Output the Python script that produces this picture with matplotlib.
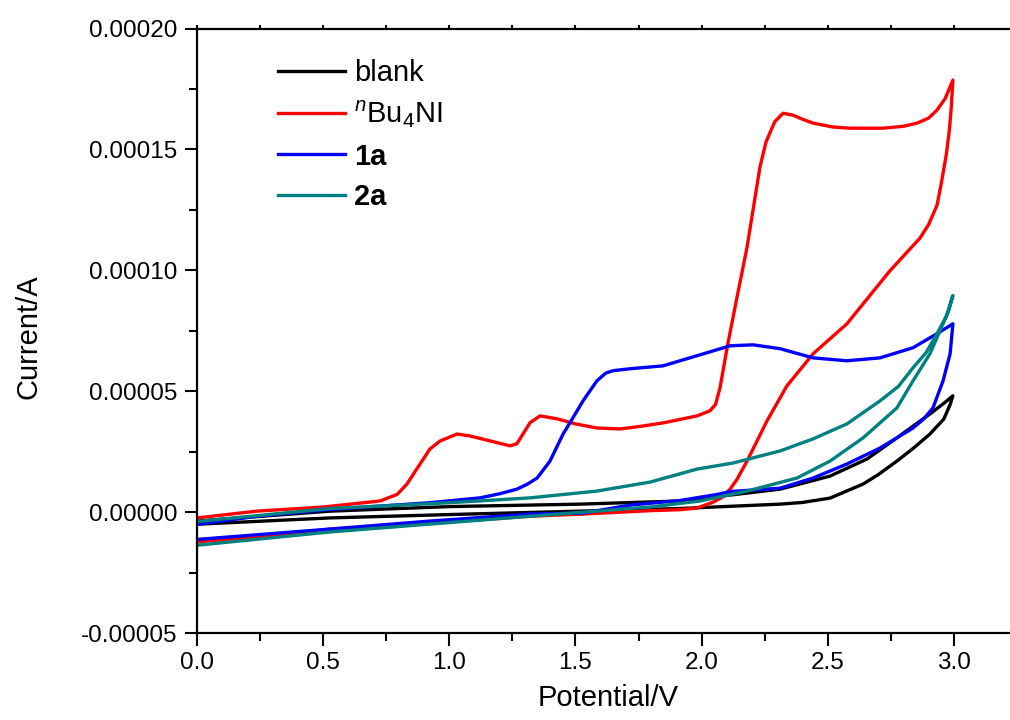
import numpy as np
import matplotlib as mpl
import matplotlib.pyplot as plt
from matplotlib.ticker import MultipleLocator, FormatStrFormatter

mpl.rcParams['font.family'] = ['Liberation Sans', 'DejaVu Sans']
mpl.rcParams['mathtext.fontset'] = 'custom'
mpl.rcParams['mathtext.rm'] = 'Liberation Sans'
mpl.rcParams['mathtext.it'] = 'Liberation Sans:italic'
mpl.rcParams['mathtext.bf'] = 'Liberation Sans:bold'

# --- data (potential in V, current in uA) ---
# blank
blank_fwd_v = [0.0, 0.527, 1.003, 1.518, 1.914, 2.311, 2.509, 2.656, 2.774, 2.905, 2.960, 2.996]
blank_fwd_i = [-3.7, 0.4, 2.3, 3.3, 4.6, 9.5, 14.9, 22.0, 30.7, 40.6, 45.0, 48.1]
blank_rev_v = [2.996, 2.985, 2.960, 2.905, 2.840, 2.774, 2.700, 2.640, 2.509, 2.400, 2.311,
               1.914, 1.518, 1.003, 0.527, 0.0]
blank_rev_i = [48.1, 44.5, 38.5, 32.3, 26.5, 21.1, 15.5, 11.6, 5.8, 4.0, 3.3,
               1.5, 0.4, -1.0, -2.4, -5.0]

# nBu4NI
nbu_fwd_v = [0.0, 0.237, 0.499, 0.725, 0.793, 0.832, 0.884, 0.923, 0.963, 1.031, 1.082,
             1.160, 1.241, 1.268, 1.292, 1.320, 1.360, 1.427, 1.500, 1.585, 1.677, 1.760,
             1.847, 1.982, 2.033, 2.055, 2.073, 2.101, 2.140, 2.180, 2.231, 2.255, 2.290,
             2.323, 2.362, 2.400, 2.442, 2.520, 2.588, 2.719, 2.800, 2.854, 2.900, 2.933,
             2.965, 2.996]
nbu_fwd_i = [-2.4, 0.4, 2.1, 4.6, 7.3, 11.6, 19.9, 26.1, 29.4, 32.3, 31.5,
             29.5, 27.4, 28.3, 32.3, 37.0, 39.8, 38.6, 36.5, 34.8, 34.4, 35.5,
             36.9, 39.8, 41.9, 44.5, 51.4, 68.0, 88.7, 109.5, 142.6, 153.0, 161.5,
             165.0, 164.2, 162.5, 160.9, 159.3, 158.8, 158.8, 159.6, 160.9, 163.0, 166.3,
             171.0, 178.7]
nbu_rev_v = [2.996, 2.990, 2.982, 2.970, 2.950, 2.933, 2.900, 2.866, 2.747, 2.576, 2.442,
             2.338, 2.259, 2.180, 2.140, 2.113, 2.080, 2.045, 1.982, 1.914, 1.795, 1.530,
             1.320, 0.923, 0.527, 0.369, 0.0]
nbu_rev_i = [178.7, 168.0, 158.0, 148.0, 136.0, 126.9, 119.0, 113.4, 99.9, 77.9, 65.5,
             52.2, 37.7, 21.1, 13.5, 9.5, 6.0, 4.1, 1.7, 1.0, 0.6, -0.8,
             -1.7, -4.6, -7.0, -9.1, -12.3]

# 1a
a1_fwd_v = [0.0, 0.238, 0.527, 0.923, 1.122, 1.200, 1.268, 1.310, 1.348, 1.399, 1.451,
            1.490, 1.530, 1.585, 1.620, 1.649, 1.716, 1.847, 1.982, 2.113, 2.204, 2.311,
            2.442, 2.576, 2.707, 2.838, 2.933, 2.996]
a1_fwd_i = [-5.1, -1.7, 1.1, 3.9, 5.9, 7.6, 9.5, 11.6, 14.1, 21.1, 32.3,
            39.0, 46.0, 54.3, 57.5, 58.5, 59.3, 60.5, 64.7, 68.8, 69.2, 67.6,
            63.8, 62.6, 63.8, 68.0, 73.8, 77.9]
a1_rev_v = [2.996, 2.990, 2.985, 2.970, 2.957, 2.917, 2.880, 2.838, 2.707, 2.576, 2.442,
            2.311, 2.113, 2.061, 1.914, 1.716, 1.530, 1.320, 0.923, 0.527, 0.0]
a1_rev_i = [77.9, 71.0, 65.5, 59.5, 54.3, 43.1, 38.5, 34.8, 26.5, 19.9, 14.1,
            9.9, 8.5, 7.3, 4.8, 2.9, -0.4, -0.8, -3.7, -7.0, -11.3]

# 2a
a2_fwd_v = [0.0, 0.527, 1.003, 1.320, 1.585, 1.795, 1.982, 2.124, 2.311, 2.442, 2.576,
            2.707, 2.780, 2.838, 2.890, 2.933, 2.970, 2.996]
a2_fwd_i = [-3.9, 1.5, 3.9, 5.9, 8.7, 12.4, 17.8, 20.3, 25.3, 30.3, 36.5,
            46.0, 52.0, 59.7, 66.0, 73.8, 81.0, 89.6]
a2_rev_v = [2.996, 2.980, 2.957, 2.905, 2.838, 2.774, 2.640, 2.509, 2.378, 2.180, 1.994,
            1.795, 1.320, 0.527, 0.0]
a2_rev_i = [89.6, 83.5, 77.9, 65.5, 54.3, 43.1, 30.7, 21.1, 14.1, 8.7, 4.6,
            2.1, -1.7, -8.2, -13.7]

labels = ['blank', r'$^{\mathit{n}}$Bu$_4$NI', '1a', '2a']
colors = ['black', 'red', 'blue', '#008080']
fwd_v = [blank_fwd_v, nbu_fwd_v, a1_fwd_v, a2_fwd_v]
fwd_i = [blank_fwd_i, nbu_fwd_i, a1_fwd_i, a2_fwd_i]
rev_v = [blank_rev_v, nbu_rev_v, a1_rev_v, a2_rev_v]
rev_i = [blank_rev_i, nbu_rev_i, a1_rev_i, a2_rev_i]

fig = plt.figure(figsize=(10.1, 7.2), dpi=100)
ax = fig.add_axes([197 / 1010, 1 - 633 / 720, 813 / 1010, 604.4 / 720])

for k in range(4):
    v = np.array(fwd_v[k] + rev_v[k])
    i = np.array(fwd_i[k] + rev_i[k]) * 1e-6
    ax.plot(v, i, color=colors[k], lw=2.4, label=labels[k], solid_joinstyle='round')

ax.set_xlim(0, 813 / 252.3)
ax.set_ylim(-0.00005, 0.00020)

ax.xaxis.set_major_locator(MultipleLocator(0.5))
ax.xaxis.set_minor_locator(MultipleLocator(0.25))
ax.yaxis.set_major_locator(MultipleLocator(0.00005))
ax.yaxis.set_minor_locator(MultipleLocator(0.000025))
ax.xaxis.set_major_formatter(FormatStrFormatter('%.1f'))
ax.yaxis.set_major_formatter(FormatStrFormatter('%.5f'))

ax.spines['right'].set_visible(False)
for s in ['left', 'bottom', 'top']:
    ax.spines[s].set_linewidth(1.6)

ax.tick_params(which='major', direction='out', length=9, width=1.5, labelsize=17.5, pad=5)
ax.tick_params(which='minor', direction='out', length=5.5, width=1.5)
ax.tick_params(which='both', top=False, right=False)

# short ticks on the top edge
top = ax.secondary_xaxis('top')
top.xaxis.set_major_locator(MultipleLocator(0.25))
top.tick_params(direction='out', length=3, width=1.5, labeltop=False)
top.spines['top'].set_visible(False)

ax.set_xlabel('Potential/V', fontsize=21)
ax.set_ylabel('Current/A', fontsize=21)
ax.xaxis.set_label_coords(0.506, -0.084)
ax.yaxis.set_label_coords(-0.19, 0.491)

leg = ax.legend(loc='upper left', bbox_to_anchor=(0.0996, 0.95), frameon=False,
                fontsize=21, handlelength=2.3, handletextpad=0.3, labelspacing=0.42,
                borderpad=0, borderaxespad=0)
for t in leg.get_texts()[2:]:
    t.set_fontweight('bold')

fig.savefig('out.png', dpi=100)
